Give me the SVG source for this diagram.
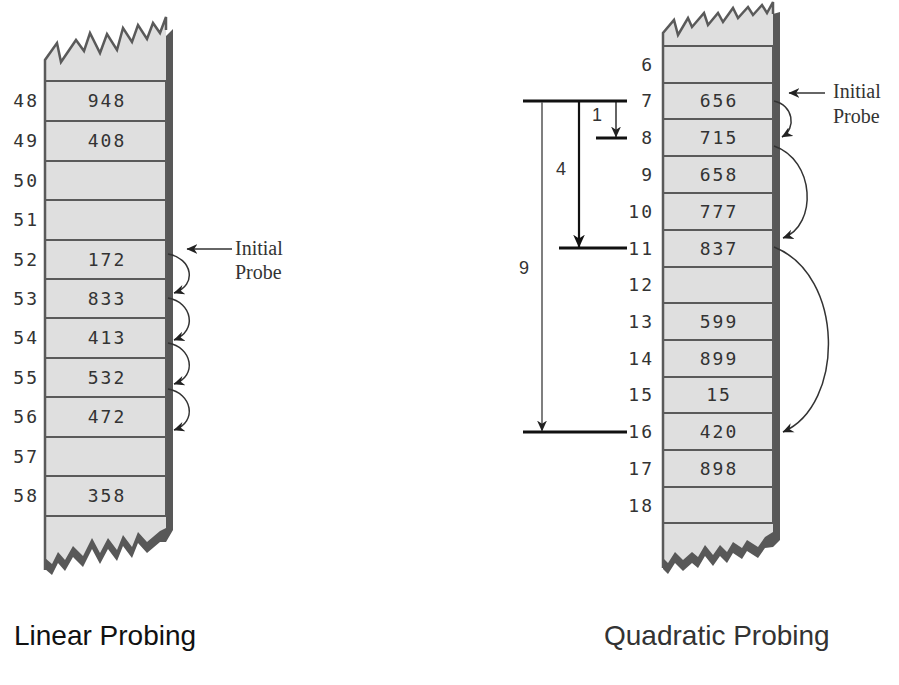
<svg xmlns="http://www.w3.org/2000/svg" width="899" height="685" viewBox="0 0 899 685">
<defs>
<style>
.body{fill:#dfdfdf;stroke:none}
.shadow{fill:#585858;stroke:none}
.edge{fill:none;stroke:#5a5a5a;stroke-width:2.5;stroke-linejoin:miter}
.cell{fill:none;stroke:#5a5a5a;stroke-width:2}
.val{font-family:"DejaVu Sans Mono",monospace;font-size:18px;fill:#333;text-anchor:middle;letter-spacing:2px}
.idx{font-family:"DejaVu Sans Mono",monospace;font-size:18px;fill:#333;text-anchor:end;letter-spacing:2px}
.note{font-family:"Liberation Serif",serif;font-size:20px;fill:#333}
.step{font-family:"Liberation Sans",sans-serif;font-size:18px;fill:#333;text-anchor:middle}
.title{font-family:"Liberation Sans",sans-serif;font-size:28px}
.curve{fill:none;stroke:#333;stroke-width:1.5}
.bar{stroke:#111;stroke-width:3}
</style>
<marker id="ah" viewBox="0 0 10 10" refX="9.5" refY="5" markerWidth="11" markerHeight="11" markerUnits="userSpaceOnUse" orient="auto"><path d="M0,0.5 L10,5 L0,9.5 L3,5 Z" fill="#222"/></marker>
<marker id="ahb" viewBox="0 0 10 10" refX="9.5" refY="5" markerWidth="13" markerHeight="13" markerUnits="userSpaceOnUse" orient="auto"><path d="M0,0.5 L10,5 L0,9.5 L3,5 Z" fill="#111"/></marker>
</defs>
<rect width="899" height="685" fill="#fff"/>

<g id="linear-column">
<path class="shadow" d="M166,36 L173,29 L173,530 L166,542 L160,542 L147,553 L138,543 L132,558 L123,546 L117,561 L108,549 L100,564 L92,549 L83,567 L73,557 L65,571 L58,563 L52,575 L45,569 L45,540 L166,500 Z"/>
<path class="body" d="M45,60 L57,43 L61,62 L76,40 L84,51 L90,33 L100,53 L107,34 L117,50 L123,28 L132,42 L138,25 L147,39 L153,23 L160,33 L166,17 L166,528 L160,531 L147,542 L138,532 L132,547 L123,535 L117,550 L108,538 L100,553 L92,538 L83,556 L73,546 L65,560 L58,552 L52,564 L45,558 Z"/>
<path class="edge" d="M45,570 L45,60 L57,43 L61,62 L76,40 L84,51 L90,33 L100,53 L107,34 L117,50 L123,28 L132,42 L138,25 L147,39 L153,23 L160,33 L166,17 L166,30"/>
</g>
<g id="lin-48"><rect class="cell" x="45" y="81" width="121" height="40"/><text class="idx" x="39" y="107">48</text><text class="val" x="107" y="107">948</text></g>
<g id="lin-49"><rect class="cell" x="45" y="121" width="121" height="40"/><text class="idx" x="39" y="147">49</text><text class="val" x="107" y="147">408</text></g>
<g id="lin-50"><rect class="cell" x="45" y="161" width="121" height="39"/><text class="idx" x="39" y="187">50</text></g>
<g id="lin-51"><rect class="cell" x="45" y="200" width="121" height="40"/><text class="idx" x="39" y="226">51</text></g>
<g id="lin-52"><rect class="cell" x="45" y="240" width="121" height="39"/><text class="idx" x="39" y="266">52</text><text class="val" x="107" y="266">172</text></g>
<g id="lin-53"><rect class="cell" x="45" y="279" width="121" height="39"/><text class="idx" x="39" y="305">53</text><text class="val" x="107" y="305">833</text></g>
<g id="lin-54"><rect class="cell" x="45" y="318" width="121" height="40"/><text class="idx" x="39" y="344">54</text><text class="val" x="107" y="344">413</text></g>
<g id="lin-55"><rect class="cell" x="45" y="358" width="121" height="39"/><text class="idx" x="39" y="384">55</text><text class="val" x="107" y="384">532</text></g>
<g id="lin-56"><rect class="cell" x="45" y="397" width="121" height="40"/><text class="idx" x="39" y="423">56</text><text class="val" x="107" y="423">472</text></g>
<g id="lin-57"><rect class="cell" x="45" y="437" width="121" height="39"/><text class="idx" x="39" y="463">57</text></g>
<g id="lin-58"><rect class="cell" x="45" y="476" width="121" height="40"/><text class="idx" x="39" y="502">58</text><text class="val" x="107" y="502">358</text></g>

<g id="quad-column">
<path class="shadow" d="M773,14 L780,12 L780,540 L773,547 L765,548 L758,558 L747,551 L742,559 L733,553 L727,563 L720,556 L713,566 L705,556 L698,568 L692,563 L683,571 L675,563 L668,574 L663,569 L663,540 L773,500 Z"/>
<path class="body" d="M663,33 L674,20 L678,35 L688,18 L692,27 L704,13 L708,25 L718,13 L723,22 L733,8 L738,18 L748,7 L753,15 L762,5 L767,13 L773,2 L773,532 L765,537 L758,547 L747,540 L742,548 L733,542 L727,552 L720,545 L713,555 L705,545 L698,557 L692,552 L683,560 L675,552 L668,563 L663,558 Z"/>
<path class="edge" d="M663,568 L663,33 L674,20 L678,35 L688,18 L692,27 L704,13 L708,25 L718,13 L723,22 L733,8 L738,18 L748,7 L753,15 L762,5 L767,13 L773,2 L773,14"/>
</g>
<g id="quad-6"><rect class="cell" x="663" y="46" width="110" height="37"/><text class="idx" x="654" y="71">6</text></g>
<g id="quad-7"><rect class="cell" x="663" y="83" width="110" height="36"/><text class="idx" x="654" y="107">7</text><text class="val" x="719" y="107">656</text></g>
<g id="quad-8"><rect class="cell" x="663" y="119" width="110" height="37"/><text class="idx" x="654" y="144">8</text><text class="val" x="719" y="144">715</text></g>
<g id="quad-9"><rect class="cell" x="663" y="156" width="110" height="37"/><text class="idx" x="654" y="181">9</text><text class="val" x="719" y="181">658</text></g>
<g id="quad-10"><rect class="cell" x="663" y="193" width="110" height="37"/><text class="idx" x="654" y="218">10</text><text class="val" x="719" y="218">777</text></g>
<g id="quad-11"><rect class="cell" x="663" y="230" width="110" height="37"/><text class="idx" x="654" y="255">11</text><text class="val" x="719" y="255">837</text></g>
<g id="quad-12"><rect class="cell" x="663" y="267" width="110" height="36"/><text class="idx" x="654" y="291">12</text></g>
<g id="quad-13"><rect class="cell" x="663" y="303" width="110" height="37"/><text class="idx" x="654" y="328">13</text><text class="val" x="719" y="328">599</text></g>
<g id="quad-14"><rect class="cell" x="663" y="340" width="110" height="37"/><text class="idx" x="654" y="365">14</text><text class="val" x="719" y="365">899</text></g>
<g id="quad-15"><rect class="cell" x="663" y="377" width="110" height="36"/><text class="idx" x="654" y="401">15</text><text class="val" x="719" y="401">15</text></g>
<g id="quad-16"><rect class="cell" x="663" y="413" width="110" height="37"/><text class="idx" x="654" y="438">16</text><text class="val" x="719" y="438">420</text></g>
<g id="quad-17"><rect class="cell" x="663" y="450" width="110" height="37"/><text class="idx" x="654" y="475">17</text><text class="val" x="719" y="475">898</text></g>
<g id="quad-18"><rect class="cell" x="663" y="487" width="110" height="36"/><text class="idx" x="654" y="512">18</text></g>

<g id="lin-initial-probe"><text class="note" x="235" y="255">Initial</text><text class="note" x="235" y="279">Probe</text></g>
<g id="quad-initial-probe"><text class="note" x="833" y="98">Initial</text><text class="note" x="833" y="123">Probe</text></g>

<g id="quad-offsets">
<line class="bar" x1="523" y1="101" x2="627" y2="101"/>
<line class="bar" x1="596" y1="138" x2="627" y2="138"/>
<line class="bar" x1="559" y1="248" x2="627" y2="248"/>
<line class="bar" x1="523" y1="432" x2="627" y2="432"/>
<text class="step" x="597" y="121">1</text>
<text class="step" x="561" y="175">4</text>
<text class="step" x="524" y="274">9</text>
</g>

<g id="connectors">
<line x1="232" y1="249" x2="187" y2="249" stroke="#333" stroke-width="1.5" marker-end="url(#ah)"/>
<line x1="825" y1="93" x2="789" y2="93" stroke="#333" stroke-width="1.5" marker-end="url(#ah)"/>
<path class="curve" d="M168,254 C192,258 198,285 174,293" marker-end="url(#ah)"/>
<path class="curve" d="M168,298 C192,302 198,331 174,340" marker-end="url(#ah)"/>
<path class="curve" d="M168,343 C192,347 198,376 174,384" marker-end="url(#ah)"/>
<path class="curve" d="M168,389 C192,393 198,422 174,430" marker-end="url(#ah)"/>
<path class="curve" d="M774,101 C793,105 797,128 782,137" marker-end="url(#ah)"/>
<path class="curve" d="M774,146 C815,160 818,225 783,238" marker-end="url(#ah)"/>
<path class="curve" d="M774,247 C845,275 845,405 783,432" marker-end="url(#ah)"/>
<line x1="616" y1="102" x2="616" y2="137" stroke="#111" stroke-width="1.3" marker-end="url(#ah)"/>
<line x1="579" y1="102" x2="579" y2="247" stroke="#111" stroke-width="2.2" marker-end="url(#ahb)"/>
<line x1="542" y1="102" x2="542" y2="431" stroke="#555" stroke-width="1.5" marker-end="url(#ah)"/>
</g>

<text class="title" x="14" y="645" fill="#111">Linear Probing</text>
<text class="title" x="604" y="645" fill="#333">Quadratic Probing</text>
</svg>
